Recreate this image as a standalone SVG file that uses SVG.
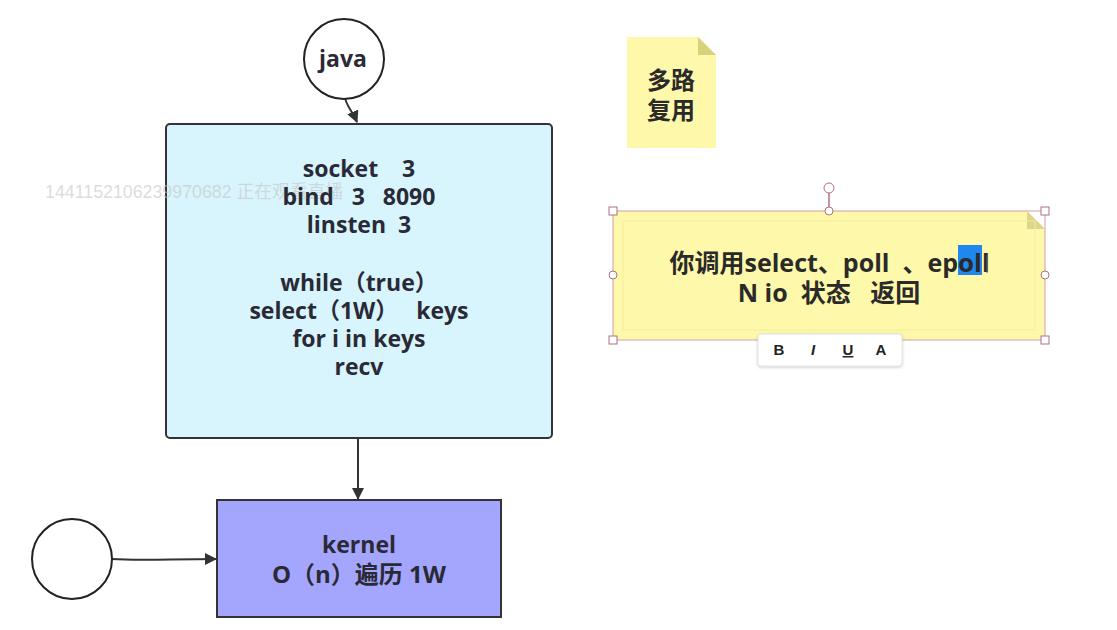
<svg xmlns="http://www.w3.org/2000/svg" width="1117" height="630" viewBox="0 0 1117 630">
<style>
text{white-space:pre}
.t{font-family:"Open Sans","Noto Sans CJK SC",sans-serif;font-weight:bold;font-size:23px;fill:#2a2a36;text-anchor:middle}
.s{font-family:"Open Sans","Noto Sans CJK SC",sans-serif;font-weight:bold;font-size:25px;fill:#2a2a2a}
.c{font-family:"Noto Sans CJK SC","Open Sans",sans-serif;font-weight:bold;font-size:24px;fill:#2a2a2a;text-anchor:middle}
.edge{fill:none;stroke:#333;stroke-width:2}
.h{fill:#fff;stroke:#b07080;stroke-width:1}
.tb{font-family:"Liberation Sans",sans-serif;font-weight:bold;font-size:15px;fill:#222;text-anchor:middle}
</style>
<defs>
<marker id="ah" markerWidth="12" markerHeight="12" refX="11" refY="6" orient="auto" markerUnits="userSpaceOnUse">
<path d="M0,0 L12,6 L0,12 z" fill="#333"/>
</marker>
<filter id="sh" x="-10%" y="-20%" width="120%" height="160%"><feDropShadow dx="0" dy="1" stdDeviation="1.5" flood-color="#000" flood-opacity="0.2"/></filter>
</defs>
<rect width="1117" height="630" fill="#fff"/>
<g id="connectors">
<path class="edge" d="M345,97 C346,106 352,110 357,122" marker-end="url(#ah)"/>
<path class="edge" d="M358,438 L358,499" marker-end="url(#ah)"/>
<path class="edge" d="M112,559 C140,561 170,559 216,559" marker-end="url(#ah)"/>
</g>
<g id="java">
<circle cx="344" cy="59" r="40" fill="#fff" stroke="#222" stroke-width="2"/>
<text class="t" x="343" y="67">java</text>
</g>
<g id="program">
<rect x="166" y="124" width="386" height="314" rx="4" fill="#d8f5fd" stroke="#333" stroke-width="2"/>
<text x="45" y="198" font-family="Liberation Sans,Noto Sans CJK SC,sans-serif" font-size="17.8" fill="#c4c4c4" fill-opacity="0.6">1441152106239970682 正在观看直播</text>
<text class="t"><tspan x="359" y="177">socket    3</tspan><tspan x="359" y="205">bind   3   8090</tspan><tspan x="359" y="233">linsten  3</tspan><tspan x="359" y="291">while（true）</tspan><tspan x="359" y="319">select（1W）   keys</tspan><tspan x="359" y="347">for i in keys</tspan><tspan x="359" y="375">recv</tspan></text>
</g>
<g id="kernel">
<rect x="217" y="500" width="284" height="117" fill="#a3a6fc" stroke="#333" stroke-width="2"/>
<text class="t"><tspan x="359" y="553">kernel</tspan><tspan x="359" y="583" font-size="24">O（n）遍历 1W</tspan></text>
</g>
<g id="client">
<circle cx="72" cy="559" r="40" fill="#fff" stroke="#222" stroke-width="2"/>
</g>
<g id="note-multiplex">
<path d="M627,37 L698,37 L716,55 L716,148 L627,148 z" fill="#fdf8aa"/>
<path d="M698,37 L716,55 L698,55 z" fill="#d9d27c"/>
<text class="c"><tspan x="671" y="89">多路</tspan><tspan x="671" y="119">复用</tspan></text>
</g>
<g id="note-select">
<path d="M613,211 L1027,211 L1045,229 L1045,340 L613,340 z" fill="#fdf8aa"/>
<path d="M1027,211 L1045,229 L1027,229 z" fill="#ddd68a"/>
<rect x="623" y="221" width="412" height="109" fill="none" stroke="#f3ec9a" stroke-width="1"/>
<rect x="958" y="245" width="24" height="30" fill="#1e88f0"/>
<text class="s" x="958" y="272" text-anchor="end">你调用select、poll  、ep</text>
<text class="s" x="958" y="272" fill="#fff" textLength="24" lengthAdjust="spacingAndGlyphs">ol</text>
<text class="s" x="982" y="272">l</text>
<line x1="987" y1="255" x2="987" y2="273" stroke="#666" stroke-width="1"/>
<text class="s" x="829" y="302" text-anchor="middle">N io  状态   返回</text>
<rect x="613" y="211" width="432" height="129" fill="none" stroke="#d4a0a8" stroke-width="1"/>
<line x1="829" y1="193" x2="829" y2="211" stroke="#b07080" stroke-width="1.5"/>
<circle class="h" cx="829" cy="188" r="5"/>
<rect class="h" x="609" y="207" width="8" height="8"/>
<rect class="h" x="1041" y="207" width="8" height="8"/>
<rect class="h" x="609" y="336" width="8" height="8"/>
<rect class="h" x="1041" y="336" width="8" height="8"/>
<circle class="h" cx="829" cy="211" r="4"/>
<circle class="h" cx="613" cy="275" r="4"/>
<circle class="h" cx="1045" cy="275" r="4"/>
</g>
<g id="toolbar">
<rect x="758" y="334" width="144" height="32" rx="3" fill="#fff" stroke="#e2e2e2" filter="url(#sh)"/>
<text class="tb" x="779" y="355">B</text>
<text class="tb" x="813" y="355" font-family="Liberation Serif,serif" font-style="italic">I</text>
<text class="tb" x="848" y="355" text-decoration="underline">U</text>
<text class="tb" x="881" y="355" font-weight="normal">A</text>
</g>
</svg>
